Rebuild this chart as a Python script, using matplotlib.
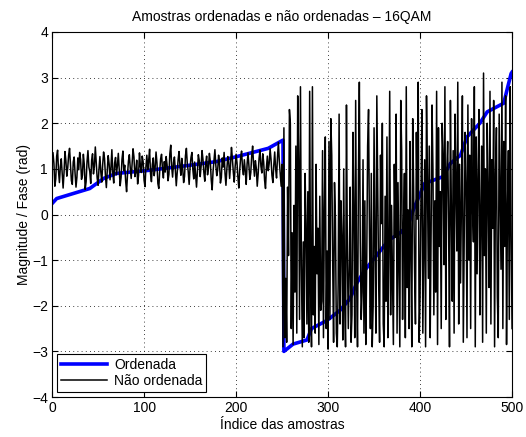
import numpy as np
import matplotlib.pyplot as plt

plt.rcParams['font.family'] = ['Liberation Sans', 'DejaVu Sans']

# sorted curve, read as (index, value) pairs from the picture
sorted_idx = [0, 5, 41, 56, 70, 106, 150, 179, 201, 235, 251, 252,
              262, 277, 282, 299, 313, 324, 331, 340, 353, 366, 378, 387,
              393, 405, 425, 433, 444, 451, 465, 473, 491, 494, 499, 500]
sorted_val = [0.24, 0.35, 0.57, 0.79, 0.90, 0.97, 1.08, 1.16, 1.27, 1.45, 1.63, -3.0,
              -2.84, -2.75, -2.5, -2.32, -2.1, -1.84, -1.51, -1.22, -0.89, -0.56, -0.41, -0.23,
              0.12, 0.68, 0.83, 1.12, 1.30, 1.70, 2.0, 2.25, 2.44, 2.69, 3.09, 3.12]

# unsorted samples: magnitudes (first 250) then phases (last 250)
magnitudes = [
    1.35, 1.12, 0.62, 0.78, 1.28, 1.41, 0.95, 0.70, 1.05, 1.22, 0.88, 0.58, 0.92, 1.38, 1.18, 0.84, 1.02, 1.30, 1.45, 1.08, 0.74, 0.66, 1.15, 1.26, 0.90,
    0.60, 0.82, 1.24, 0.98, 1.36, 1.20, 0.77, 0.86, 1.32, 1.10, 0.55, 0.72, 1.16, 1.40, 1.04, 0.94, 0.68, 1.19, 1.33, 0.89, 1.06, 1.48, 1.14, 0.80, 0.64,
    1.00, 1.27, 0.93, 0.71, 1.09, 1.37, 1.23, 0.85, 0.59, 0.97, 1.29, 1.11, 0.76, 1.03, 1.42, 0.91, 0.69, 1.13, 1.25, 0.87, 1.07, 1.34, 0.99, 0.63, 0.81,
    1.21, 1.39, 0.96, 1.08, 0.73, 0.50, 0.88, 1.17, 1.31, 1.01, 0.79, 1.12, 1.44, 1.26, 0.83, 0.94, 1.19, 0.67, 0.86, 1.35, 1.06, 0.92, 1.28, 1.15, 0.75,
    0.61, 1.04, 1.30, 0.98, 1.18, 1.43, 0.90, 0.72, 1.10, 1.24, 0.85, 1.02, 1.37, 1.13, 0.68, 0.57, 0.95, 1.22, 1.32, 1.00, 0.80, 1.16, 0.93, 1.27, 1.09,
    0.74, 0.88, 1.33, 1.52, 1.05, 0.82, 1.14, 1.26, 0.97, 0.63, 0.91, 1.20, 1.38, 1.07, 0.86, 1.23, 1.01, 0.70, 0.84, 1.29, 1.45, 1.11, 0.94, 0.66, 1.03,
    1.25, 1.36, 0.99, 0.78, 1.15, 0.89, 0.60, 0.96, 1.31, 1.18, 0.83, 1.06, 1.40, 1.21, 0.92, 0.73, 1.12, 1.28, 0.87, 1.02, 1.34, 1.17, 0.76, 0.54, 0.95,
    1.19, 1.42, 1.08, 0.85, 0.97, 1.30, 1.13, 0.69, 0.81, 1.24, 1.04, 1.36, 0.90, 0.64, 1.00, 1.27, 1.16, 0.79, 1.09, 1.47, 1.22, 0.93, 0.71, 1.05, 1.32,
    1.14, 0.82, 0.58, 0.98, 1.26, 1.39, 1.02, 0.87, 1.20, 0.95, 0.66, 1.11, 1.35, 1.07, 0.77, 0.92, 1.29, 1.50, 1.10, 0.84, 1.18, 1.01, 0.62, 0.89, 1.23,
    1.41, 1.06, 0.91, 1.33, 1.15, 0.75, 0.57, 1.03, 1.28, 0.96, 1.12, 1.44, 1.21, 0.86, 0.70, 1.08, 1.37, 1.00, 0.80, 1.25, 1.58, 1.17, 0.88, 0.62, 1.10,
]
phases = [
    -2.9, 1.9, -2.7, -1.4, -2.8, 0.6, -0.9, 2.3, 2.0, -2.5, -0.4, -2.85, 0.2, -1.7, 1.5, -2.6, 2.6, 1.2, -2.3, 2.8, -1.1, -2.9, -0.6, -2.7, 0.9,
    -0.2, -2.4, 0.5, -2.8, 2.7, -1.6, -2.9, 2.8, -2.2, -0.7, -2.6, 1.1, -1.3, -0.3, -2.85, 0.4, -2.1, -1.9, 1.4, -2.7, 0.1, 1.7, -2.5, -0.8, -2.95,
    1.6, -2.3, 2.1, 1.3, -1.0, -2.8, 0.7, -0.1, -2.6, -2.9, -1.5, 2.2, -2.4, 0.3, -0.5, -2.75, 1.0, -1.8, -2.9, 2.4, -0.9, -2.5, -1.2, 0.6, -2.8,
    -2.2, 1.8, 0.0, -2.7, 2.5, -1.4, -2.9, 0.8, 2.9, -0.6, -2.3, -1.7, 1.2, -2.6, 0.3, -2.85, -1.1, 1.5, 2.3, -0.4, -2.5, 0.9, -2.9, -2.0, 1.9,
    -0.7, -2.6, 2.6, 0.5, -1.5, -2.8, 1.3, -0.2, 2.0, -2.4, -2.9, 0.4, -1.9, 1.7, -2.7, -0.8, 2.7, -2.2, 0.2, -1.3, -2.85, 1.1, -0.5, 2.2, -2.6,
    0.7, -1.0, -2.9, 2.5, 1.4, -2.3, -0.3, 0.9, -2.7, 2.8, -1.6, 0.1, -2.5, 1.6, -0.9, -2.9, 2.1, 0.6, -1.2, -2.4, 1.8, -0.1, 2.9, -2.8, -1.8,
    0.4, 2.3, -2.6, -0.6, 1.2, -2.9, 2.6, 0.8, -1.4, 1.5, -2.7, -0.4, 2.4, 1.0, -2.2, 0.3, -1.7, 2.7, -2.85, 1.9, -0.7, 0.5, -2.5, 2.0, 1.3,
    -1.1, 2.8, -2.3, 0.9, 1.6, -0.2, -2.9, 2.5, 0.1, -1.9, 1.4, -2.6, 2.2, 0.6, -0.8, 2.9, -2.4, 1.1, -1.5, 0.3, 2.6, -2.8, -0.5, 1.8, 0.7,
    -2.7, 2.4, -1.0, 1.3, -2.5, 2.1, 0.2, -0.6, 2.8, -2.9, 1.7, -1.3, 0.8, 2.3, -2.2, 0.0, 1.5, -2.8, 3.1, -0.9, 1.0, -2.6, 2.0, 0.5, -1.6,
    2.7, -2.4, 1.2, -0.3, 2.5, -2.9, 0.9, 1.9, -1.8, -2.7, 2.2, 0.4, -1.2, 2.9, -2.5, 1.6, -0.7, 2.6, -2.85, 0.1, 1.4, -2.3, 2.8, -0.4, -2.5,
]

unsorted = magnitudes + phases
idx = np.arange(1, len(unsorted) + 1)

fig = plt.figure(figsize=(5.26, 4.37), dpi=100)
ax = fig.add_axes([0.099, 0.0915, 0.8745, 0.8353])

ax.plot(sorted_idx, sorted_val, color='#0000ff', lw=2.6, label='Ordenada')
ax.plot(idx, unsorted, color='black', lw=1.1, label='Não ordenada')

ax.set_xlim(0, 500)
ax.set_ylim(-4, 4)
ax.set_xticks(np.arange(0, 501, 100))
ax.set_yticks(np.arange(-4, 5, 1))
ax.tick_params(direction='in', top=True, right=True, labelsize=10, length=4, pad=3)
ax.grid(True, color='black', linestyle=(0, (1, 4)), linewidth=0.6)
for s in ax.spines.values():
    s.set_linewidth(0.8)

ax.set_title('Amostras ordenadas e não ordenadas – 16QAM', fontsize=10, pad=8)
ax.set_xlabel('Índice das amostras', fontsize=10, labelpad=2)
ax.set_ylabel('Magnitude / Fase (rad)', fontsize=10, labelpad=1)

leg = ax.legend(loc='lower left', fontsize=10, fancybox=False, framealpha=1,
                edgecolor='black', borderaxespad=0.35, handlelength=3.3,
                borderpad=0.3, labelspacing=0.15, handletextpad=0.5)
leg.get_frame().set_linewidth(0.8)

fig.savefig('out.png', dpi=100)
